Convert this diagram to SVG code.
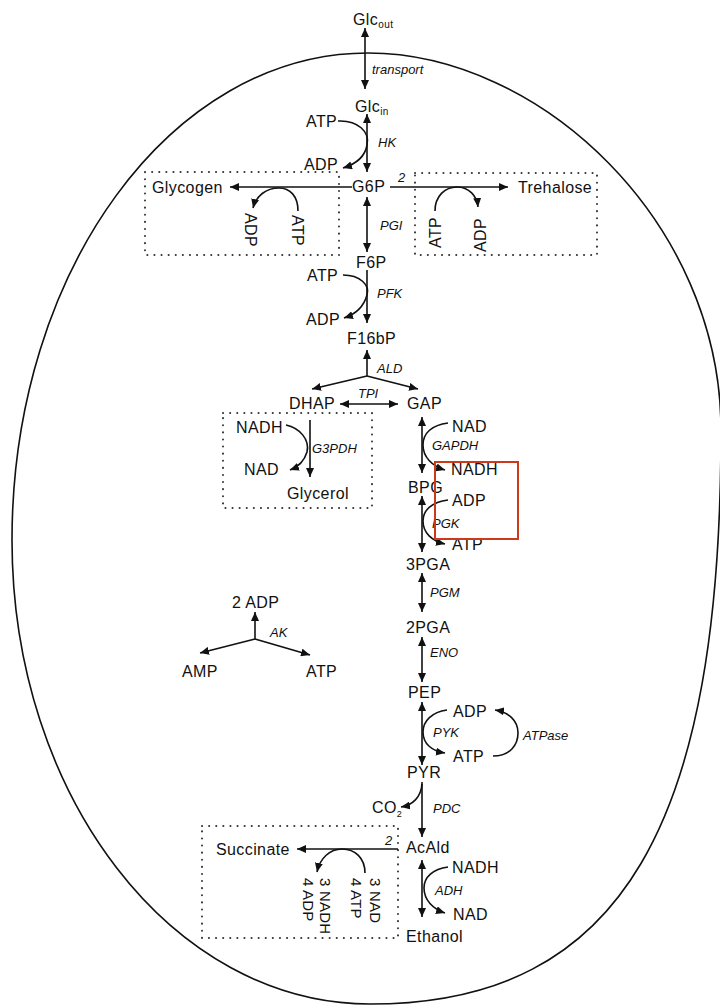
<svg xmlns="http://www.w3.org/2000/svg" width="720" height="1005" viewBox="0 0 720 1005">
<defs>
<marker id="ah" viewBox="0 0 9 8" refX="9" refY="4" markerWidth="9" markerHeight="8" markerUnits="userSpaceOnUse" orient="auto-start-reverse"><path d="M0,0 L9,4 L0,8 z" fill="#111"/></marker>
<style>
.t{font-family:"Liberation Sans",Arial,sans-serif;font-size:16px;fill:#111;letter-spacing:0.4px}
.v{font-family:"Liberation Sans",Arial,sans-serif;font-size:15px;fill:#111;letter-spacing:0.2px}
.e{font-family:"Liberation Sans",Arial,sans-serif;font-size:13px;font-style:italic;fill:#111}
.ln{stroke:#111;stroke-width:1.6;fill:none}
.a{marker-end:url(#ah)}
.d{marker-start:url(#ah);marker-end:url(#ah)}
.box{stroke:#333;stroke-width:2;stroke-dasharray:0.1 7;stroke-linecap:round;fill:none}
</style>
</defs>
<rect width="720" height="1005" fill="#fff"/>
<path id="cell" d="M12,540 C12,271 171,53 368,53 C540,53 721,222 721,430 C721,820 625,1004 370,1004 C172,1004 12,796 12,540 Z" fill="none" stroke="#111" stroke-width="1.6"/>
<g id="boxes">
<rect class="box" x="145" y="172" width="194" height="83"/>
<rect class="box" x="415" y="173" width="182" height="82"/>
<rect class="box" x="223" y="413" width="149" height="95"/>
<rect class="box" x="202" y="826" width="196" height="112"/>
</g>
<g id="connectors" class="ln">
<path class="d" d="M365,28 L365,89"/>
<path class="d" d="M367,114 L367,172"/>
<path class="a" d="M338,121 C358,120 370,132 367,145 C365,157 356,164 343,168"/>
<path class="a" d="M352,187 L230,187"/>
<path class="a" d="M298,211 C298,196 290,188 279,188 C266,188 256,196 253,208"/>
<path class="a" d="M390,187 L508,187"/>
<path class="a" d="M435,211 C435,196 445,187 457,187 C469,187 477,196 478,207"/>
<path class="d" d="M367,197 L367,252"/>
<path class="a" d="M367,270 L367,323"/>
<path class="a" d="M343,275 C360,275 370,285 367,295 C364,306 356,314 344,318"/>
<path class="a" d="M367,376 L367,350"/>
<path class="a" d="M367,376 L312,389"/>
<path class="a" d="M367,376 L418,389"/>
<path class="d" d="M340,404 L398,404"/>
<path class="a" d="M310,420 L310,477"/>
<path class="a" d="M286,425 C300,428 310,440 307,452 C304,462 298,467 290,470"/>
<path class="d" d="M422,417 L422,473"/>
<path class="a" d="M448,423 C432,425 423,433 423,445 C423,457 432,466 445,470"/>
<path class="d" d="M422,496 L422,552"/>
<path class="a" d="M448,500 C432,502 423,510 423,521 C423,533 432,541 445,544"/>
<path class="d" d="M422,573 L422,612"/>
<path class="d" d="M422,637 L422,682"/>
<path class="d" d="M422,702 L422,765"/>
<path class="a" d="M447,710 C432,712 423,721 423,732 C423,744 432,751 445,753"/>
<path class="a" d="M493,756 C510,756 518,745 518,733 C518,720 508,712 495,710"/>
<path class="a" d="M422,782 L422,837"/>
<path class="a" d="M422,784 C421,797 413,805 401,807"/>
<path class="a" d="M398,849 L297,849"/>
<path class="a" d="M365,873 C365,858 355,849 342,849 C330,849 320,858 317,872"/>
<path class="d" d="M422,860 L422,917"/>
<path class="a" d="M448,867 C433,869 424,877 424,888 C424,900 433,909 445,913"/>
<path class="a" d="M255,639 L255,612"/>
<path class="a" d="M255,639 L200,653"/>
<path class="a" d="M255,639 L310,655"/>
</g>
<g id="enzymes" class="e">
<text x="372" y="74">transport</text>
<text x="378" y="147">HK</text>
<text x="398" y="182">2</text>
<text x="380" y="230">PGI</text>
<text x="377" y="298">PFK</text>
<text x="377" y="373">ALD</text>
<text x="358" y="398">TPI</text>
<text x="312" y="453">G3PDH</text>
<text x="432" y="450">GAPDH</text>
<text x="432" y="528">PGK</text>
<text x="430" y="597">PGM</text>
<text x="430" y="657">ENO</text>
<text x="433" y="737">PYK</text>
<text x="523" y="740">ATPase</text>
<text x="433" y="813">PDC</text>
<text x="385" y="845">2</text>
<text x="435" y="895">ADH</text>
<text x="270" y="637">AK</text>
</g>
<g id="n-glcout"><text class="t" x="353" y="25">Glc<tspan font-size="10" dy="3">out</tspan></text></g>
<g id="n-glcin"><text class="t" x="355" y="112">Glc<tspan font-size="10" dy="3">in</tspan></text></g>
<g id="n-hk-atp"><text class="t" x="306" y="127">ATP</text></g>
<g id="n-hk-adp"><text class="t" x="304" y="170">ADP</text></g>
<g id="n-g6p"><text class="t" x="352" y="192">G6P</text></g>
<g id="n-glycogen"><text class="t" x="152" y="193">Glycogen</text></g>
<g id="n-trehalose"><text class="t" x="518" y="193">Trehalose</text></g>
<g id="n-gly-adp"><text class="t" transform="translate(245,213) rotate(90)">ADP</text></g>
<g id="n-gly-atp"><text class="t" transform="translate(292,215) rotate(90)">ATP</text></g>
<g id="n-tre-atp"><text class="t" transform="translate(441,248) rotate(-90)">ATP</text></g>
<g id="n-tre-adp"><text class="t" transform="translate(486,252) rotate(-90)">ADP</text></g>
<g id="n-f6p"><text class="t" x="356" y="268">F6P</text></g>
<g id="n-pfk-atp"><text class="t" x="307" y="281">ATP</text></g>
<g id="n-pfk-adp"><text class="t" x="306" y="325">ADP</text></g>
<g id="n-f16bp"><text class="t" x="347" y="344">F16bP</text></g>
<g id="n-dhap"><text class="t" x="289" y="409">DHAP</text></g>
<g id="n-gap"><text class="t" x="407" y="409">GAP</text></g>
<g id="n-g3-nadh"><text class="t" x="236" y="433">NADH</text></g>
<g id="n-g3-nad"><text class="t" x="244" y="475">NAD</text></g>
<g id="n-glycerol"><text class="t" x="287" y="499">Glycerol</text></g>
<g id="n-gapdh-nad"><text class="t" x="452" y="432">NAD</text></g>
<g id="n-gapdh-nadh"><text class="t" x="451" y="475">NADH</text></g>
<g id="n-bpg"><text class="t" x="408" y="493">BPG</text></g>
<g id="n-pgk-adp"><text class="t" x="452" y="506">ADP</text></g>
<g id="n-pgk-atp"><text class="t" x="452" y="550">ATP</text></g>
<g id="n-3pga"><text class="t" x="406" y="570">3PGA</text></g>
<g id="n-2pga"><text class="t" x="406" y="633">2PGA</text></g>
<g id="n-pep"><text class="t" x="408" y="698">PEP</text></g>
<g id="n-pyk-adp"><text class="t" x="453" y="717">ADP</text></g>
<g id="n-pyk-atp"><text class="t" x="453" y="762">ATP</text></g>
<g id="n-pyr"><text class="t" x="407" y="778">PYR</text></g>
<g id="n-co2"><text class="t" x="372" y="813" font-size="13" letter-spacing="0">CO<tspan font-size="9" dy="4">2</tspan></text></g>
<g id="n-acald"><text class="t" x="406" y="853">AcAld</text></g>
<g id="n-succinate"><text class="t" x="216" y="855">Succinate</text></g>
<g id="n-suc-in"><text class="v" transform="translate(370,878) rotate(90)"><tspan x="0" y="0">3 NAD</tspan><tspan x="0" y="19">4 ATP</tspan></text></g>
<g id="n-suc-out"><text class="v" transform="translate(320,878) rotate(90)"><tspan x="0" y="0">3 NADH</tspan><tspan x="0" y="17">4 ADP</tspan></text></g>
<g id="n-adh-nadh"><text class="t" x="452" y="873">NADH</text></g>
<g id="n-adh-nad"><text class="t" x="453" y="920">NAD</text></g>
<g id="n-ethanol"><text class="t" x="406" y="942">Ethanol</text></g>
<g id="n-2adp"><text class="t" x="232" y="608">2 ADP</text></g>
<g id="n-amp"><text class="t" x="182" y="677">AMP</text></g>
<g id="n-ak-atp"><text class="t" x="306" y="677">ATP</text></g>
<rect id="highlight" x="435" y="462" width="83" height="77" fill="none" stroke="#cc3a1a" stroke-width="2"/>
</svg>
